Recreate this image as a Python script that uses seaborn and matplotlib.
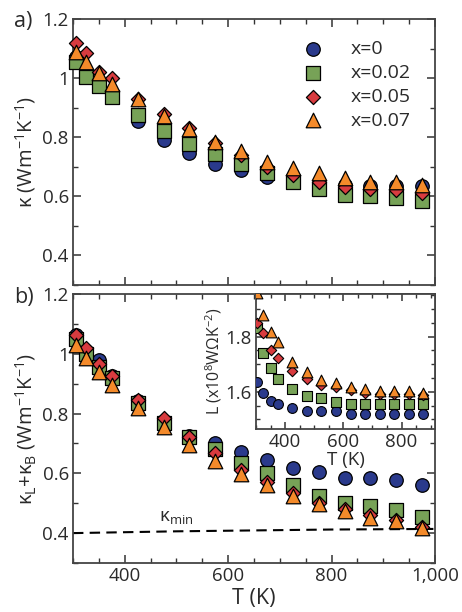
import matplotlib
matplotlib.use("Agg")
import matplotlib.pyplot as plt
import seaborn as sns
import numpy as np
import pandas as pd
from matplotlib.ticker import MultipleLocator, FuncFormatter, FixedLocator

sns.set_style("ticks")
plt.rcParams['font.family'] = ['Open Sans', 'DejaVu Sans']
plt.rcParams['mathtext.fontset'] = 'custom'
plt.rcParams['mathtext.rm'] = 'Open Sans'
plt.rcParams['mathtext.it'] = 'Open Sans'

# ---------------- data ----------------
T = [305, 325, 350, 375, 425, 475, 525, 575, 625, 675, 725, 775, 825, 875, 925, 975]
labels = ["x=0", "x=0.02", "x=0.05", "x=0.07"]

kappa_x0 = [1.07, 1.02, 0.98, 0.95, 0.855, 0.79, 0.745, 0.71, 0.69, 0.665, 0.655, 0.645, 0.64, 0.635, 0.635, 0.635]
kappa_x002 = [1.055, 1.005, 0.974, 0.937, 0.876, 0.82, 0.778, 0.744, 0.71, 0.68, 0.65, 0.626, 0.605, 0.60, 0.596, 0.585]
kappa_x005 = [1.12, 1.085, 1.02, 1.0, 0.93, 0.88, 0.83, 0.78, 0.74, 0.70, 0.673, 0.65, 0.63, 0.625, 0.622, 0.612]
kappa_x007 = [1.09, 1.055, 1.017, 0.98, 0.928, 0.873, 0.828, 0.785, 0.752, 0.717, 0.697, 0.68, 0.663, 0.65, 0.65, 0.64]

klb_x0 = [1.062, 1.01, 0.978, 0.924, 0.843, 0.776, 0.725, 0.70, 0.67, 0.645, 0.617, 0.604, 0.583, 0.586, 0.577, 0.56]
klb_x002 = [1.05, 1.0, 0.957, 0.918, 0.834, 0.77, 0.72, 0.68, 0.635, 0.60, 0.56, 0.525, 0.502, 0.49, 0.477, 0.455]
klb_x005 = [1.062, 1.02, 0.966, 0.924, 0.846, 0.785, 0.722, 0.668, 0.61, 0.57, 0.535, 0.50, 0.48, 0.462, 0.445, 0.42]
klb_x007 = [1.03, 0.985, 0.94, 0.895, 0.82, 0.755, 0.695, 0.64, 0.597, 0.56, 0.525, 0.497, 0.473, 0.45, 0.44, 0.418]

kmin_T = [300, 400, 500, 600, 700, 800, 900, 1000]
kmin = [0.400, 0.403, 0.406, 0.408, 0.410, 0.412, 0.413, 0.414]

T_inset = [305, 325, 350, 375, 425, 475, 525, 575, 625, 675, 725, 775, 825, 875]
L_x0 = [1.636, 1.596, 1.567, 1.556, 1.542, 1.53, 1.53, 1.53, 1.52, 1.52, 1.52, 1.52, 1.52, 1.52]
L_x002 = [1.83, 1.742, 1.687, 1.647, 1.61, 1.585, 1.578, 1.564, 1.556, 1.556, 1.556, 1.556, 1.556, 1.556]
L_x005 = [1.85, 1.815, 1.753, 1.724, 1.677, 1.647, 1.625, 1.618, 1.607, 1.596, 1.593, 1.593, 1.593, 1.589]
L_x007 = [1.96, 1.88, 1.818, 1.78, 1.71, 1.673, 1.644, 1.633, 1.618, 1.61, 1.604, 1.604, 1.604, 1.596]

colors = ["#2a3a8c", "#77a257", "#d83b3f", "#f48a2a"]
markers = ["o", "s", "D", "^"]
sizes_main = [95, 90, 52, 110]
sizes_inset = [50, 48, 28, 60]

# ---------------- figure ----------------
fig = plt.figure(figsize=(4.62, 6.12), dpi=100)
W, H = 462, 612
ax1 = fig.add_axes([73 / W, (H - 285) / H, 362 / W, 266 / H])
ax2 = fig.add_axes([73 / W, (H - 563) / H, 362 / W, 269 / H])
axi = fig.add_axes([256 / W, (H - 429) / H, 179 / W, 135 / H])

fs = 13.5
tc = "#2a2a2a"
gfmt = FuncFormatter(lambda v, p: f"{v:g}")


def style_axes(ax, xmaj, xmin, ymaj, ymin):
    ax.xaxis.set_major_locator(FixedLocator(xmaj))
    ax.xaxis.set_minor_locator(MultipleLocator(xmin))
    ax.yaxis.set_major_locator(FixedLocator(ymaj))
    ax.yaxis.set_minor_locator(MultipleLocator(ymin))
    ax.tick_params(which="both", direction="in", top=True, right=True,
                   labelsize=fs, colors="#333333", labelcolor=tc, pad=3)
    ax.tick_params(which="major", length=6, width=1.1)
    ax.tick_params(which="minor", length=3.5, width=1.0)
    for s in ax.spines.values():
        s.set_linewidth(1.3)
        s.set_color("#444444")
    ax.yaxis.set_major_formatter(gfmt)


main_sets = [
    (ax1, [kappa_x0, kappa_x002, kappa_x005, kappa_x007]),
    (ax2, [klb_x0, klb_x002, klb_x005, klb_x007]),
]
for ax, series in main_sets:
    for vals, c, m, s, lab in zip(series, colors, markers, sizes_main, labels):
        df = pd.DataFrame({"T": T, "v": vals})
        sns.scatterplot(data=df, x="T", y="v", ax=ax, color=c, marker=m, s=s,
                        edgecolor="black", linewidth=0.9, label=lab, zorder=3,
                        clip_on=False)
    ax.set_xlim(300, 1000)
    ax.set_ylim(0.3, 1.2)
    style_axes(ax, [400, 600, 800, 1000], 50, [0.4, 0.6, 0.8, 1.0, 1.2], 0.1)
    ax.set_xlabel("")
    ax.set_ylabel("")

ax1.tick_params(labelbottom=False)
ax2.xaxis.set_major_formatter(FuncFormatter(lambda v, p: f"{v:,.0f}"))

# kmin line
sns.lineplot(x=kmin_T, y=kmin, ax=ax2, color="black", linestyle=(0, (5, 3)),
             linewidth=1.5, zorder=2)
ax2.text(500, 0.425, r"κ$_{\rm min}$", fontsize=fs, ha="center", va="bottom",
         color=tc)

# legend
leg = ax1.legend(loc="upper left", bbox_to_anchor=(0.61, 0.95), frameon=False,
                 fontsize=fs + 0.5, handletextpad=1.3, labelspacing=0.3,
                 borderaxespad=0.0, handlelength=1.2)
for t in leg.get_texts():
    t.set_color(tc)
if ax2.get_legend():
    ax2.get_legend().remove()

ax1.set_ylabel(r"κ (Wm$^{-1}$K$^{-1}$)", fontsize=fs + 1, labelpad=3, color=tc)
ax2.set_ylabel(r"κ$_{\rm L}$+κ$_{\rm B}$ (Wm$^{-1}$K$^{-1}$)", fontsize=fs + 1,
               labelpad=3, color=tc)
ax2.set_xlabel("T (K)", fontsize=fs + 2, labelpad=2, color=tc)

fig.text(14 / W, 1 - 22 / H, "a)", fontsize=fs + 2, va="center", ha="left", color=tc)
fig.text(14 / W, 1 - 298 / H, "b)", fontsize=fs + 2, va="center", ha="left", color=tc)

# inset
inset_series = [L_x0, L_x002, L_x005, L_x007]
for vals, c, m, s in zip(inset_series, colors, markers, sizes_inset):
    df = pd.DataFrame({"T": T_inset, "v": vals})
    sns.scatterplot(data=df, x="T", y="v", ax=axi, color=c, marker=m, s=s,
                    edgecolor="black", linewidth=0.8, zorder=3, legend=False)
axi.set_xlim(300, 915)
axi.set_ylim(1.465, 1.955)
style_axes(axi, [400, 600, 800], 50, [1.6, 1.8], 0.05)
axi.tick_params(which="major", length=5)
axi.tick_params(which="minor", length=3)
axi.set_facecolor("white")
axi.set_xlabel("T (K)", fontsize=fs, labelpad=0, color=tc)
axi.set_ylabel(r"L (x10$^{8}$WΩK$^{-2}$)", fontsize=fs - 2, labelpad=1, color=tc)

fig.savefig("out.png", dpi=100)
